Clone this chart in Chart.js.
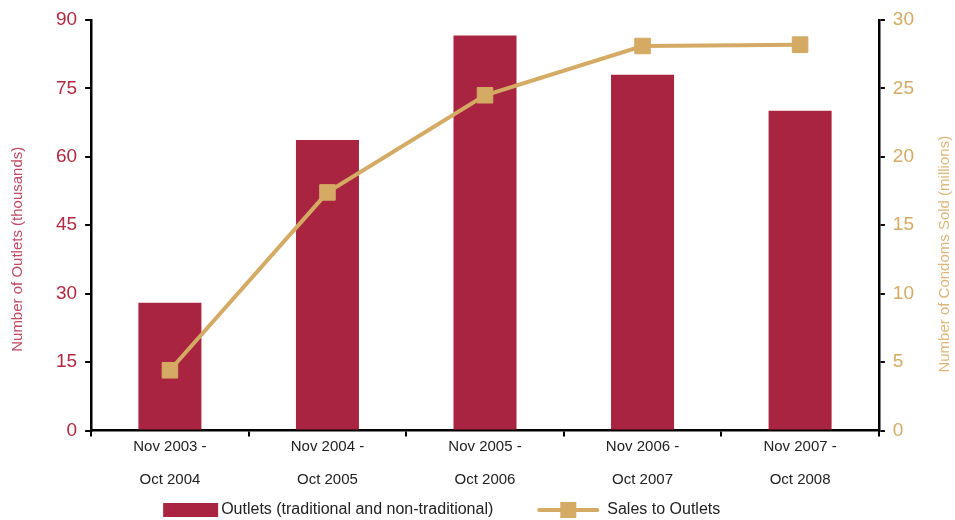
<!DOCTYPE html>
<html>
<head>
<meta charset="utf-8">
<script src="https://cdn.jsdelivr.net/npm/chart.js@4.4.0/dist/chart.umd.min.js"></script>
<style>
  body { margin: 0; background: #fff; }
  #wrap { width: 955px; height: 520px; }
</style>
</head>
<body>
<div id="wrap"><canvas id="grafico"></canvas></div>
<script>
// ----------------------- dados --------------------------------------------//
var periodos = [
  ['Nov 2003 -', 'Oct 2004'],
  ['Nov 2004 -', 'Oct 2005'],
  ['Nov 2005 -', 'Oct 2006'],
  ['Nov 2006 -', 'Oct 2007'],
  ['Nov 2007 -', 'Oct 2008']
];
var outlets = [28, 63.7, 86.6, 78, 70.1];      // milhares
var vendas = [4.4, 17.4, 24.5, 28.1, 28.2];    // milhões

var vermelho = '#A82440';
var dourado = '#D4AA64';
var fonte = "'Liberation Sans', Arial, sans-serif";

// títulos dos eixos e legenda desenhados à mão
var extras = {
  id: 'extras',
  afterDraw: function (chart) {
    var c = chart.ctx;
    var area = chart.chartArea;
    var meio = (area.top + area.bottom) / 2 + 24;
    c.save();
    c.font = '15px ' + fonte;
    c.textAlign = 'center';
    c.textBaseline = 'middle';

    c.fillStyle = '#BF4A62';
    c.save();
    c.translate(18, meio);
    c.rotate(-Math.PI / 2);
    c.fillText('Number of Outlets (thousands)', 0, 0);
    c.restore();

    c.fillStyle = '#DDB77A';
    c.save();
    c.translate(chart.width - 10, meio + 5);
    c.rotate(-Math.PI / 2);
    c.fillText('Number of Condoms Sold (millions)', 0, 0);
    c.restore();

    // legenda
    var barra = chart.data.datasets[1];
    var linha = chart.data.datasets[0];
    var y = 510;
    var x = area.left + 72;
    c.font = '16px ' + fonte;
    c.textAlign = 'left';
    c.fillStyle = barra.backgroundColor;
    c.fillRect(x, y - 7, 55, 14);
    c.fillStyle = '#222';
    c.fillText(barra.label, x + 58, y);
    x = x + 58 + c.measureText(barra.label).width + 46;
    c.strokeStyle = linha.borderColor;
    c.lineWidth = 4;
    c.lineCap = 'round';
    c.beginPath(); c.moveTo(x, y); c.lineTo(x + 58, y); c.stroke();
    c.fillStyle = linha.backgroundColor;
    c.fillRect(x + 21, y - 8, 16, 16);
    c.fillStyle = '#222';
    c.fillText(linha.label, x + 68, y);
    c.restore();
  }
};

var data = {
  labels: periodos,
  datasets: [
    {
      type: 'line',
      label: 'Sales to Outlets',
      data: vendas,
      yAxisID: 'y2',
      borderColor: dourado,
      backgroundColor: dourado,
      borderWidth: 4,
      pointStyle: 'rect',
      pointRadius: 11,
      pointHoverRadius: 11,
      pointBorderWidth: 1,
      tension: 0,
      order: 0
    },
    {
      type: 'bar',
      label: 'Outlets (traditional and non-traditional)',
      data: outlets,
      yAxisID: 'y',
      backgroundColor: vermelho,
      barPercentage: 0.4,
      categoryPercentage: 1,
      order: 1
    }
  ]
};

var options = {
  responsive: true,
  maintainAspectRatio: false,
  animation: false,
  layout: { padding: { top: 20, right: 33, left: 48, bottom: 30 } },
  plugins: {
    tooltip: { enabled: false },
    legend: { display: false }
  },
  scales: {
    x: {
      offset: true,
      border: { color: '#000', width: 2.5 },
      grid: { offset: true, drawOnChartArea: false, color: '#000', lineWidth: 2, tickLength: 6 },
      ticks: { color: '#222', font: { family: fonte, size: 15, lineHeight: 2.25 }, maxRotation: 0, padding: -7 }
    },
    y: {
      position: 'left',
      min: 0,
      max: 90,
      border: { color: '#000', width: 2.5 },
      grid: { drawOnChartArea: false, color: '#000', lineWidth: 2, tickLength: 6 },
      ticks: { stepSize: 15, color: '#B3283F', font: { family: fonte, size: 19 }, padding: 8 }
    },
    y2: {
      position: 'right',
      min: 0,
      max: 30,
      border: { color: '#000', width: 2.5 },
      grid: { drawOnChartArea: false, color: '#000', lineWidth: 2, tickLength: 6 },
      ticks: { stepSize: 5, color: dourado, font: { family: fonte, size: 19 }, padding: 8 }
    }
  }
};

var ctx = document.getElementById('grafico').getContext('2d');
var grafico = new Chart(ctx, {
  data: data,
  options: options,
  plugins: [extras]
});
</script>
</body>
</html>
